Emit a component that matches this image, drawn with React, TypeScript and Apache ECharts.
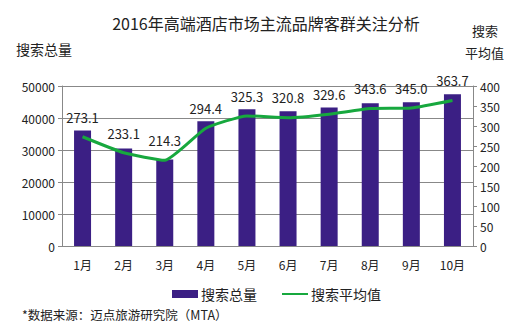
import React, { useEffect, useRef } from "react";
import * as echarts from "echarts";

const months = ["1月", "2月", "3月", "4月", "5月", "6月", "7月", "8月", "9月", "10月"];
const searchTotal = [36100, 30500, 27000, 39000, 42700, 42100, 43300, 44600, 44900, 47400];
const searchAvg = [273.1, 233.1, 214.3, 294.4, 325.3, 320.8, 329.6, 343.6, 345.0, 363.7];

const FONT = "'Noto Sans CJK SC', 'Noto Sans', sans-serif";
const BAR = "#3b1f84";
const LINE = "#17a83e";
const AXIS = "#888888";

export default function App() {
  const ref = useRef<HTMLDivElement>(null);
  useEffect(() => {
    if (!ref.current) return;
    const chart = echarts.init(ref.current, undefined, { renderer: "svg" });
    chart.setOption({
      animation: false,
      backgroundColor: "#ffffff",
      textStyle: { fontFamily: FONT },
      title: {
        text: "2016年高端酒店市场主流品牌客群关注分析",
        left: 261,
        textAlign: "center",
        top: 10,
        textStyle: { fontSize: 16, fontWeight: "normal", color: "#222", fontFamily: FONT },
      },
      graphic: [
        { type: "text", left: 16, top: 42, style: { text: "搜索总量", fontSize: 14, fill: "#222", fontFamily: FONT } },
        { type: "text", left: 472, top: 24, style: { text: "搜索", fontSize: 13, fill: "#222", fontFamily: FONT } },
        { type: "text", left: 465, top: 46, style: { text: "平均值", fontSize: 13, fill: "#222", fontFamily: FONT } },
        { type: "text", left: 22, top: 308, style: { text: "*数据来源：迈点旅游研究院（MTA）", fontSize: 12.5, fill: "#222", fontFamily: FONT } },
      ],
      legend: {
        top: 282,
        left: 167,
        itemGap: 24,
        itemWidth: 26,
        itemHeight: 8,
        textStyle: { fontSize: 14, color: "#222", fontFamily: FONT, padding: [0, 0, 0, -2] },
        data: [
          { name: "搜索总量", icon: "rect" },
          { name: "搜索平均值", itemStyle: { opacity: 0 } },
        ],
      },
      grid: { left: 62, right: 39, top: 86, bottom: 87 },
      xAxis: {
        type: "category",
        data: months,
        axisLine: { lineStyle: { color: AXIS } },
        axisTick: { lineStyle: { color: AXIS }, length: 5 },
        axisLabel: { fontSize: 12, color: "#222", margin: 12, fontFamily: FONT },
      },
      yAxis: [
        {
          type: "value",
          min: 0,
          max: 50000,
          interval: 10000,
          axisLine: { show: true, lineStyle: { color: AXIS } },
          axisTick: { show: true, lineStyle: { color: AXIS }, length: 4 },
          axisLabel: { fontSize: 12, color: "#222", margin: 7, fontFamily: FONT, formatter: (v: number) => String(v) },
          splitLine: { lineStyle: { color: AXIS } },
        },
        {
          type: "value",
          min: 0,
          max: 400,
          interval: 50,
          position: "right",
          axisLine: { show: true, lineStyle: { color: AXIS } },
          axisTick: { show: true, lineStyle: { color: AXIS }, length: 4 },
          axisLabel: { fontSize: 12, color: "#222", margin: 7, fontFamily: FONT, formatter: (v: number) => String(v) },
          splitLine: { show: false },
        },
      ],
      series: [
        {
          name: "搜索总量",
          type: "bar",
          data: searchTotal,
          barWidth: 17,
          itemStyle: { color: BAR },
        },
        {
          name: "搜索平均值",
          type: "line",
          yAxisIndex: 1,
          data: searchAvg,
          symbol: "circle",
          symbolSize: 0.5,
          showSymbol: true,
          showAllSymbol: true,
          smooth: 0.15,
          lineStyle: { color: LINE, width: 3 },
          itemStyle: { color: LINE },
          label: {
            show: true,
            position: "top",
            distance: 13,
            fontSize: 13,
            color: "#222",
            fontFamily: FONT,
            formatter: (p: any) => Number(p.value).toFixed(1),
          },
        },
      ],
    });
    return () => chart.dispose();
  }, []);
  return <div ref={ref} style={{ width: 512, height: 333, position: "absolute", left: 0, top: 0 }} />;
}
